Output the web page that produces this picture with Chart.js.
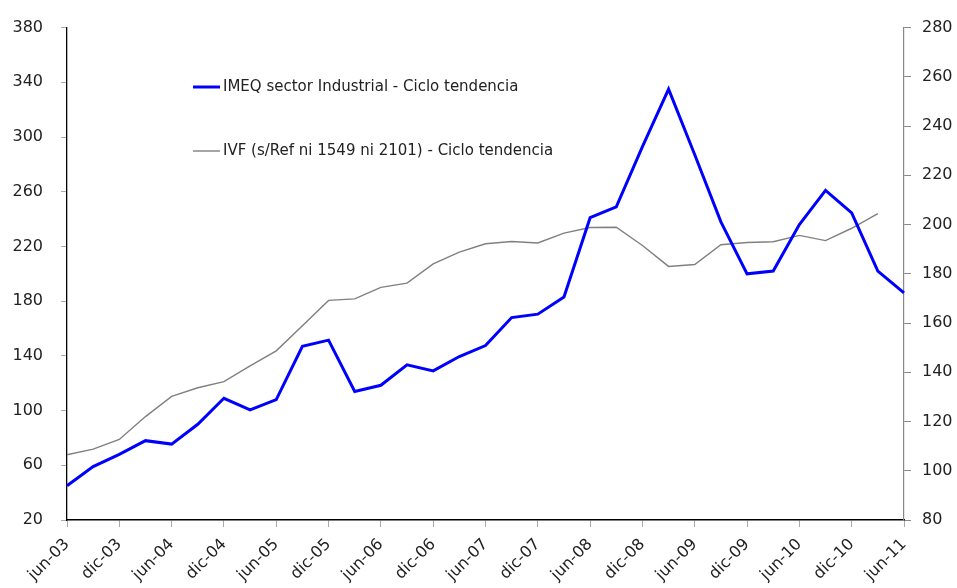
<!DOCTYPE html>
<html>
<head>
<meta charset="utf-8">
<script src="https://cdn.jsdelivr.net/npm/chart.js@4.4.1/dist/chart.umd.min.js"></script>
<style>
  html, body { margin: 0; padding: 0; background: #fff; }
</style>
</head>
<body>
<canvas id="grafico" width="957" height="588"></canvas>
<script>
// trimestres jun-03 .. jun-11
const periodos = [
  'jun-03', 'sep-03', 'dic-03',
  'mar-04', 'jun-04', 'sep-04', 'dic-04',
  'mar-05', 'jun-05', 'sep-05', 'dic-05',
  'mar-06', 'jun-06', 'sep-06', 'dic-06',
  'mar-07', 'jun-07', 'sep-07', 'dic-07',
  'mar-08', 'jun-08', 'sep-08', 'dic-08',
  'mar-09', 'jun-09', 'sep-09', 'dic-09',
  'mar-10', 'jun-10', 'sep-10', 'dic-10',
  'mar-11', 'jun-11'
];

// eje izquierdo
const imeqIndustrial = [
  45, 59, 68, 78, 75.5, 90, 109, 100.5, 108, 147, 151.5,
  114, 118.5, 133.5, 129, 139.5, 147.5, 168, 170.5, 183, 241, 249,
  293, 335, 287, 238, 200, 202, 236, 261, 244.5, 202, 186
];

// eje derecho
const ivfCiclo = [
  106.5, 108.8, 112.7, 122, 130.2, 133.7, 136.2, 142.6, 148.7, 158.9, 169.2,
  169.8, 174.5, 176.2, 184, 188.8, 192.2, 193.1, 192.5, 196.5, 198.8, 198.9,
  191.5, 183, 183.8, 191.8, 192.7, 193, 195.6, 193.5, 198.5, 204.4, null
];

const etiquetas = [
  'IMEQ sector Industrial - Ciclo tendencia',
  'IVF (s/Ref ni 1549 ni 2101) - Ciclo tendencia'
];

const FUENTE = 'DejaVu Sans';

// leyenda dentro del área del gráfico, una fila por serie
const leyendaInterna = {
  id: 'leyendaInterna',
  afterDatasetsDraw(chart) {
    const { ctx, chartArea } = chart;
    const filas = [87, 151];
    ctx.save();
    ctx.font = '15px "' + FUENTE + '"';
    ctx.textBaseline = 'middle';
    ctx.fillStyle = '#222';
    chart.data.datasets.forEach((ds, i) => {
      const x = chartArea.left + 126;
      const y = filas[i];
      ctx.strokeStyle = ds.borderColor;
      ctx.lineWidth = ds.borderWidth;
      ctx.beginPath();
      ctx.moveTo(x, y);
      ctx.lineTo(x + 27, y);
      ctx.stroke();
      ctx.fillText(ds.label, x + 30, y);
    });
    ctx.restore();
  }
};

new Chart(document.getElementById('grafico'), {
  type: 'line',
  data: {
    labels: periodos,
    datasets: [
      {
        label: etiquetas[0],
        data: imeqIndustrial,
        yAxisID: 'y',
        borderColor: '#0000ff',
        borderWidth: 3,
        pointRadius: 0,
        tension: 0
      },
      {
        label: etiquetas[1],
        data: ivfCiclo,
        yAxisID: 'y1',
        borderColor: '#808080',
        borderWidth: 1.4,
        pointRadius: 0,
        tension: 0
      }
    ]
  },
  options: {
    responsive: false,
    devicePixelRatio: 1,
    animation: false,
    layout: { padding: { top: 24, left: 0, right: 0, bottom: 0 } },
    plugins: {
      legend: { display: false },
      tooltip: { enabled: false }
    },
    scales: {
      x: {
        type: 'category',
        offset: false,
        afterFit(scale) { scale.height = 68; },
        border: { color: '#000', width: 1.5 },
        grid: {
          drawOnChartArea: false,
          tickLength: 7,
          tickColor: (c) => (c.index % 2 ? 'rgba(0,0,0,0)' : '#aaa')
        },
        ticks: {
          autoSkip: false,
          maxRotation: 45,
          minRotation: 45,
          padding: 8,
          color: '#222',
          font: { family: FUENTE, size: 16 },
          callback: (v, i) => (i % 2 ? '' : periodos[i])
        }
      },
      y: {
        position: 'left',
        min: 20,
        max: 380,
        afterFit(scale) { scale.width = 67; },
        border: { color: '#000', width: 1.3 },
        grid: { drawOnChartArea: false, tickLength: 6, tickColor: '#aaa' },
        ticks: {
          stepSize: 40,
          padding: 18,
          color: '#222',
          font: { family: FUENTE, size: 16 }
        }
      },
      y1: {
        position: 'right',
        min: 80,
        max: 280,
        afterFit(scale) { scale.width = 53; },
        border: { color: '#888', width: 1.2 },
        grid: { drawOnChartArea: false, tickLength: 7, tickColor: '#888' },
        ticks: {
          stepSize: 20,
          padding: 11,
          color: '#222',
          font: { family: FUENTE, size: 16 }
        }
      }
    }
  },
  plugins: [leyendaInterna]
});
</script>
</body>
</html>
